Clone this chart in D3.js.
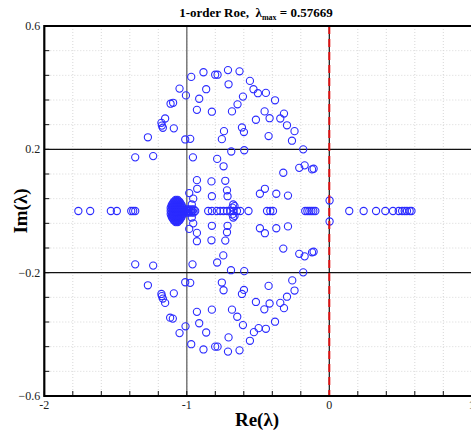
<!DOCTYPE html>
<html>
<head>
<meta charset="utf-8">
<script src="https://cdn.jsdelivr.net/npm/d3@7"></script>
<style>
  body { margin: 0; background: #fff; }
  svg { display: block; }
</style>
</head>
<body>
<div id="chart"></div>
<script>
// eigenvalues [Re, Im]
const realAxis = [
    -1.761, -1.678, -1.533, -1.491, -1.390, -1.376, -1.362,
    -0.850, -0.824, -0.789, -0.765, -0.742, -0.718, -0.695, -0.672, -0.648, -0.625, -0.567,
    -0.437, -0.414, -0.395,
    -0.169, -0.154, -0.140, -0.126, -0.112, -0.098,
    0.140, 0.241, 0.328, 0.393, 0.447, 0.487, 0.511, 0.529, 0.545, 0.564, 0.57669
];

const upperHalf = [
    [-0.969, 0.435], [-0.883, 0.450], [-0.801, 0.442], [-0.784, 0.442], [-0.711, 0.457],
    [-0.630, 0.453], [-0.707, 0.411], [-0.557, 0.422], [-0.532, 0.395], [-0.501, 0.382],
    [-0.445, 0.383], [-0.381, 0.359], [-1.051, 0.397], [-1.006, 0.375], [-0.864, 0.395],
    [-0.913, 0.364], [-0.606, 0.371], [-0.644, 0.346], [-1.114, 0.348], [-1.096, 0.351],
    [-0.929, 0.328], [-0.824, 0.322], [-0.683, 0.323], [-0.454, 0.323], [-0.318, 0.316],
    [-1.152, 0.300], [-1.178, 0.286], [-1.175, 0.277], [-1.168, 0.270], [-1.091, 0.268],
    [-0.515, 0.296], [-0.419, 0.301], [-0.344, 0.300], [-0.297, 0.278], [-0.613, 0.271],
    [-0.599, 0.256], [-0.739, 0.259], [-0.754, 0.233], [-0.244, 0.259], [-0.426, 0.243],
    [-1.273, 0.239], [-1.011, 0.232], [-0.976, 0.234], [-0.262, 0.228], [-0.183, 0.200],
    [-0.688, 0.193], [-0.597, 0.197], [-1.362, 0.174], [-1.236, 0.178], [-0.957, 0.174],
    [-0.787, 0.169], [-0.742, 0.145], [-0.323, 0.124], [-0.211, 0.140], [-0.173, 0.148],
    [-0.121, 0.135], [-0.110, 0.137], [-0.929, 0.100], [-0.827, 0.096], [-0.730, 0.098],
    [-0.927, 0.072], [-0.718, 0.067], [-0.452, 0.072], [-0.487, 0.056], [-0.372, 0.056],
    [-0.290, 0.050], [-0.824, 0.048], [-0.714, 0.048], [-0.983, 0.058], [-0.965, 0.021],
    [-0.955, 0.040], [-0.674, 0.021], [-0.680, 0.011], [-0.665, 0.016], [0.002, 0.034]
];

const lowerHalf = [
    [-1.362, -0.173], [-1.236, -0.177], [-0.960, -0.173], [-0.787, -0.167], [-0.744, -0.144],
    [-0.690, -0.192], [-0.597, -0.195], [-0.323, -0.122], [-0.211, -0.139], [-0.173, -0.147],
    [-0.121, -0.134], [-0.110, -0.132], [-0.183, -0.199], [-0.929, -0.071], [-0.929, -0.098],
    [-0.827, -0.095], [-0.730, -0.096], [-0.718, -0.069], [-1.273, -0.241], [-1.011, -0.231],
    [-0.976, -0.233], [-0.754, -0.232], [-0.742, -0.257], [-0.613, -0.269], [-0.599, -0.256],
    [-0.426, -0.243], [-0.260, -0.225], [-0.244, -0.258], [-0.297, -0.278], [-0.344, -0.298],
    [-0.318, -0.315], [-0.515, -0.295], [-0.419, -0.300], [-0.456, -0.319], [-1.178, -0.269],
    [-1.175, -0.276], [-1.168, -0.284], [-1.152, -0.298], [-1.091, -0.267], [-0.929, -0.327],
    [-0.824, -0.320], [-0.683, -0.320], [-0.646, -0.343], [-0.606, -0.370], [-1.117, -0.346],
    [-1.098, -0.349], [-0.913, -0.364], [-0.864, -0.394], [-1.009, -0.374], [-1.051, -0.396],
    [-0.529, -0.393], [-0.557, -0.421], [-0.496, -0.380], [-0.445, -0.382], [-0.381, -0.359],
    [-0.707, -0.410], [-0.969, -0.432], [-0.883, -0.449], [-0.801, -0.440], [-0.784, -0.440],
    [-0.711, -0.456], [-0.630, -0.452], [-0.452, -0.072], [-0.487, -0.056], [-0.372, -0.056],
    [-0.290, -0.050], [-0.824, -0.048], [-0.714, -0.048], [-0.983, -0.058], [-0.965, -0.021],
    [-0.955, -0.040], [-0.674, -0.021], [-0.680, -0.011], [-0.665, -0.016], [0.002, -0.034]
];

// dense group around Re = -1.07: one row of Re values per Im level
const coreRows = [
    [0.036, [-1.078, -1.064]],
    [0.032, [-1.085, -1.071, -1.057]],
    [0.029, [-1.092, -1.078, -1.064, -1.050]],
    [0.024, [-1.099, -1.085, -1.071, -1.057, -1.043]],
    [0.019, [-1.106, -1.092, -1.078, -1.064, -1.050, -1.036]],
    [0.015, [-1.106, -1.092, -1.078, -1.064, -1.050, -1.036]],
    [0.010, [-1.113, -1.099, -1.085, -1.071, -1.057, -1.043, -1.029]],
    [0.005, [-1.106, -1.092, -1.078, -1.064, -1.050, -1.036, -1.022, -1.004, -0.987, -0.969, -0.952]],
    [0.000, [-1.113, -1.099, -1.085, -1.071, -1.057, -1.043, -1.029, -1.015, -0.997, -0.980, -0.962, -0.941]],
    [-0.005, [-1.106, -1.092, -1.078, -1.064, -1.050, -1.036, -1.022, -1.004, -0.987, -0.969, -0.952]],
    [-0.010, [-1.113, -1.099, -1.085, -1.071, -1.057, -1.043, -1.029]],
    [-0.015, [-1.106, -1.092, -1.078, -1.064, -1.050, -1.036]],
    [-0.019, [-1.106, -1.092, -1.078, -1.064, -1.050, -1.036]],
    [-0.024, [-1.099, -1.085, -1.071, -1.057, -1.043]],
    [-0.029, [-1.092, -1.078, -1.064, -1.050]],
    [-0.032, [-1.085, -1.071, -1.057]],
    [-0.036, [-1.078, -1.064]]
];

const xLabelTicks = [-2, -1, 0, 1];
const yLabelTicks = [-0.6, -0.2, 0.2, 0.6];
const lambdaMax = "0.57669";

const width = 471, height = 439;
const margin = { top: 26, left: 44.3, bottom: 43 };
const plotRight = 471.8; // x = 1 sits just past the window edge

const svg = d3.select("#chart").append("svg")
    .attr("width", width)
    .attr("height", height)
    .style("font-family", "'Liberation Serif', 'Times New Roman', serif");

const x = d3.scaleLinear().domain([-2, 1]).range([margin.left, plotRight]);
const y = d3.scaleLinear().domain([-0.6, 0.6]).range([height - margin.bottom, margin.top]);

const x0 = x(-2), x1 = x(1), y0 = y(-0.6), y1 = y(0.6);

// faint dotted grid at minor ticks
const xMinor = d3.range(-2, 1.0001, 0.2);
const yMinor = d3.range(-0.6, 0.6001, 0.08);

svg.append("g")
    .selectAll("line")
    .data(xMinor)
    .join("line")
    .attr("x1", d => x(d)).attr("x2", d => x(d))
    .attr("y1", y0).attr("y2", y1)
    .attr("stroke", "#d8d8d8")
    .attr("stroke-width", 1)
    .attr("stroke-dasharray", "1,2");

svg.append("g")
    .selectAll("line")
    .data(yMinor)
    .join("line")
    .attr("x1", x0).attr("x2", x1)
    .attr("y1", d => y(d)).attr("y2", d => y(d))
    .attr("stroke", "#d8d8d8")
    .attr("stroke-width", 1)
    .attr("stroke-dasharray", "1,2");

// major grid lines
svg.append("line")
    .attr("x1", x(-1)).attr("x2", x(-1))
    .attr("y1", y0).attr("y2", y1)
    .attr("stroke", "#777")
    .attr("stroke-width", 1.5);

svg.append("g")
    .selectAll("line")
    .data([-0.2, 0.2])
    .join("line")
    .attr("x1", x0).attr("x2", x1)
    .attr("y1", d => y(d)).attr("y2", d => y(d))
    .attr("stroke", "#111")
    .attr("stroke-width", 1.2);

svg.append("line")
    .attr("x1", x(0)).attr("x2", x(0))
    .attr("y1", y0).attr("y2", y1)
    .attr("stroke", "#111")
    .attr("stroke-width", 1.2);

// minor ticks, drawn inward
svg.append("g")
    .selectAll("line")
    .data(xMinor)
    .join("line")
    .attr("x1", d => x(d)).attr("x2", d => x(d))
    .attr("y1", y0).attr("y2", y0 - 5)
    .attr("stroke", "#111")
    .attr("stroke-width", 1);

svg.append("g")
    .selectAll("line")
    .data(yMinor)
    .join("line")
    .attr("x1", x0).attr("x2", x0 + 5)
    .attr("y1", d => y(d)).attr("y2", d => y(d))
    .attr("stroke", "#111")
    .attr("stroke-width", 1);

// eigenvalues
const corePoints = coreRows.flatMap(([im, res]) => res.map(re => [re, im]));
const points = realAxis.map(re => [re, 0])
    .concat(upperHalf, lowerHalf, corePoints);

svg.append("g")
    .selectAll("circle")
    .data(points)
    .join("circle")
    .attr("cx", d => x(d[0]))
    .attr("cy", d => y(d[1]))
    .attr("r", 3.6)
    .attr("fill", "none")
    .attr("stroke", "#2b2bff")
    .attr("stroke-width", 1.1);

// stability boundary Re = 0
svg.append("line")
    .attr("x1", x(0)).attr("x2", x(0))
    .attr("y1", y1).attr("y2", y0)
    .attr("stroke", "#e01010")
    .attr("stroke-width", 2)
    .attr("stroke-dasharray", "8,5");

// frame
svg.append("path")
    .attr("d", `M${x0},${y1} H${x1 + 2} M${x0},${y1 - 1} V${y0} H${x1 + 2}`)
    .attr("fill", "none")
    .attr("stroke", "#000")
    .attr("stroke-width", 2.2);

// tick labels
svg.append("g")
    .selectAll("text")
    .data(xLabelTicks)
    .join("text")
    .attr("x", d => x(d))
    .attr("y", y0 + 13)
    .attr("text-anchor", "middle")
    .attr("font-size", 12)
    .attr("fill", "#222")
    .text(d => d);

svg.append("g")
    .selectAll("text")
    .data(yLabelTicks)
    .join("text")
    .attr("x", x0 - 4)
    .attr("y", d => y(d) + 4)
    .attr("text-anchor", "end")
    .attr("font-size", 12)
    .attr("fill", "#222")
    .text(d => d3.format(".1f")(d));

// axis titles
svg.append("text")
    .attr("x", 257)
    .attr("y", 426)
    .attr("text-anchor", "middle")
    .attr("font-size", 19)
    .attr("font-weight", "bold")
    .text("Re(λ)");

svg.append("text")
    .attr("transform", `translate(27,${(y0 + y1) / 2}) rotate(-90)`)
    .attr("text-anchor", "middle")
    .attr("font-size", 19)
    .attr("font-weight", "bold")
    .text("Im(λ)");

// chart title
const title = svg.append("text")
    .attr("x", 256)
    .attr("y", 17)
    .attr("text-anchor", "middle")
    .attr("font-size", 13)
    .attr("font-weight", "bold")
    .attr("xml:space", "preserve");

title.append("tspan").text("1-order Roe,  λ");
title.append("tspan").attr("font-size", 8).attr("dy", 3).text("max");
title.append("tspan").attr("dy", -3).text(" = " + lambdaMax);
</script>
</body>
</html>
